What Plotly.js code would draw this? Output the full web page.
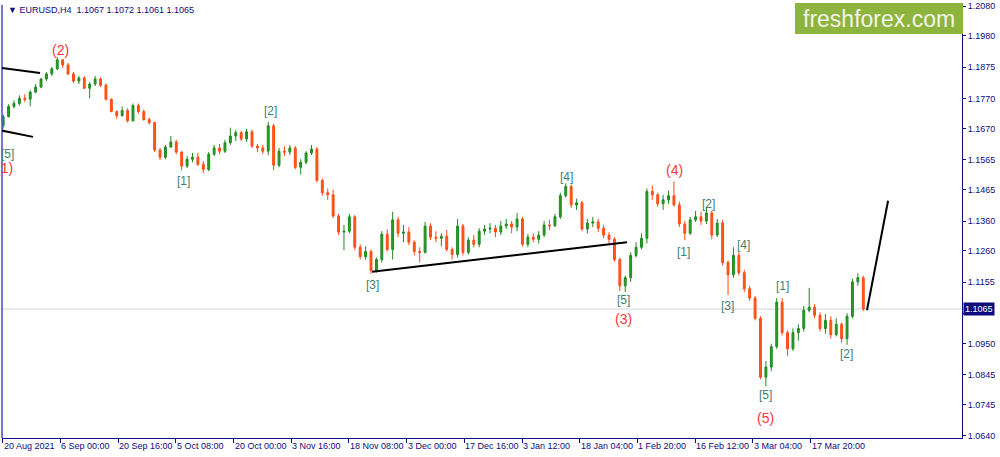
<!DOCTYPE html>
<html><head><meta charset="utf-8">
<script src="https://cdn.plot.ly/plotly-3.0.1.min.js"></script>
<style>html,body{margin:0;padding:0;background:#fff;}#chart{width:1000px;height:457px;}</style>
</head><body><div id="chart"></div>
<script>
// ---- data (EURUSD, one candle per trading day) ----
const opens = [1.1679,1.1710,1.1744,1.1754,1.1771,1.1768,1.1792,1.1809,1.1836,1.1853,
1.1870,1.1900,1.1883,1.1853,1.1829,1.1839,1.1805,1.1819,1.1836,1.1815,
1.1768,1.1727,1.1713,1.1730,1.1696,1.1747,1.1727,1.1700,1.1690,1.1598,
1.1574,1.1608,1.1625,1.1591,1.1544,1.1567,1.1574,1.1550,1.1533,1.1584,
1.1605,1.1594,1.1622,1.1645,1.1656,1.1635,1.1659,1.1611,1.1605,1.1594,
1.1679,1.1547,1.1594,1.1591,1.1605,1.1540,1.1557,1.1588,1.1601,1.1496,
1.1455,1.1448,1.1377,1.1323,1.1326,1.1374,1.1272,1.1241,1.1258,1.1194,
1.1231,1.1316,1.1265,1.1364,1.1319,1.1323,1.1289,1.1258,1.1255,1.1343,
1.1306,1.1302,1.1309,1.1265,1.1248,1.1343,1.1255,1.1296,1.1282,1.1326,
1.1333,1.1336,1.1323,1.1343,1.1350,1.1340,1.1367,1.1282,1.1306,1.1299,
1.1313,1.1347,1.1344,1.1374,1.1445,1.1476,1.1414,1.1421,1.1333,1.1353,
1.1357,1.1336,1.1313,1.1299,1.1231,1.1143,1.1170,1.1245,1.1272,1.1302,
1.1459,1.1448,1.1418,1.1431,1.1445,1.1414,1.1350,1.1319,1.1364,1.1374,
1.1360,1.1387,1.1313,1.1353,1.1221,1.1180,1.1245,1.1187,1.1133,1.1102,
1.1034,1.0837,1.0871,1.0939,1.1088,1.0986,1.0932,1.0986,1.1000,1.1061,
1.1071,1.1044,1.1000,1.1027,1.0980,1.1014,1.0966,1.1041,1.1156,1.1170];
const highs = [1.1717,1.1751,1.1764,1.1781,1.1785,1.1798,1.1819,1.1839,1.1859,1.1876,
1.1909,1.1902,1.1890,1.1859,1.1846,1.1846,1.1825,1.1846,1.1842,1.1822,
1.1771,1.1730,1.1744,1.1737,1.1754,1.1754,1.1734,1.1707,1.1693,1.1605,
1.1615,1.1645,1.1632,1.1594,1.1578,1.1588,1.1588,1.1561,1.1591,1.1615,
1.1618,1.1632,1.1673,1.1666,1.1662,1.1669,1.1666,1.1618,1.1615,1.1693,
1.1686,1.1605,1.1611,1.1615,1.1611,1.1567,1.1594,1.1615,1.1608,1.1503,
1.1469,1.1465,1.1384,1.1347,1.1384,1.1380,1.1282,1.1275,1.1265,1.1238,
1.1326,1.1333,1.1391,1.1374,1.1347,1.1340,1.1296,1.1272,1.1357,1.1353,
1.1326,1.1319,1.1330,1.1272,1.1367,1.1350,1.1306,1.1313,1.1336,1.1347,
1.1353,1.1347,1.1360,1.1367,1.1360,1.1387,1.1374,1.1316,1.1319,1.1326,
1.1360,1.1364,1.1384,1.1455,1.1486,1.1482,1.1435,1.1428,1.1367,1.1374,
1.1367,1.1347,1.1323,1.1306,1.1238,1.1177,1.1255,1.1289,1.1319,1.1469,
1.1479,1.1455,1.1448,1.1462,1.1493,1.1425,1.1360,1.1374,1.1394,1.1391,
1.1404,1.1394,1.1367,1.1364,1.1228,1.1272,1.1255,1.1197,1.1143,1.1109,
1.1041,1.0891,1.0949,1.1102,1.1102,1.0993,1.1000,1.1014,1.1075,1.1136,
1.1082,1.1054,1.1048,1.1041,1.1034,1.1020,1.1051,1.1166,1.1185,1.1177];
const lows = [1.1669,1.1707,1.1737,1.1747,1.1758,1.1744,1.1788,1.1805,1.1829,1.1846,
1.1866,1.1873,1.1849,1.1822,1.1819,1.1802,1.1771,1.1812,1.1809,1.1764,
1.1724,1.1703,1.1710,1.1690,1.1693,1.1720,1.1696,1.1683,1.1591,1.1564,
1.1567,1.1605,1.1584,1.1530,1.1537,1.1557,1.1544,1.1520,1.1527,1.1578,
1.1584,1.1588,1.1615,1.1628,1.1628,1.1625,1.1605,1.1591,1.1584,1.1581,
1.1530,1.1540,1.1578,1.1581,1.1533,1.1516,1.1550,1.1581,1.1489,1.1445,
1.1431,1.1370,1.1313,1.1262,1.1319,1.1262,1.1231,1.1231,1.1183,1.1187,
1.1221,1.1258,1.1231,1.1306,1.1289,1.1279,1.1245,1.1221,1.1251,1.1296,
1.1289,1.1275,1.1258,1.1231,1.1238,1.1245,1.1248,1.1272,1.1272,1.1313,
1.1319,1.1306,1.1313,1.1333,1.1319,1.1326,1.1275,1.1272,1.1289,1.1285,
1.1306,1.1330,1.1340,1.1367,1.1438,1.1404,1.1397,1.1326,1.1319,1.1340,
1.1323,1.1302,1.1285,1.1224,1.1126,1.1122,1.1156,1.1238,1.1265,1.1285,
1.1431,1.1408,1.1397,1.1418,1.1408,1.1340,1.1296,1.1313,1.1357,1.1347,
1.1350,1.1299,1.1306,1.1211,1.1112,1.1170,1.1177,1.1122,1.1092,1.1027,
1.0830,1.0806,1.0857,1.0932,1.0976,1.0908,1.0925,1.0959,1.0990,1.1054,
1.1034,1.0990,1.0983,1.0966,1.0973,1.0952,1.0945,1.1034,1.1143,1.1058];
const closes = [1.1710,1.1744,1.1754,1.1771,1.1768,1.1792,1.1809,1.1836,1.1853,1.1870,
1.1900,1.1883,1.1853,1.1829,1.1839,1.1805,1.1819,1.1836,1.1815,1.1768,
1.1727,1.1713,1.1730,1.1696,1.1747,1.1727,1.1700,1.1690,1.1598,1.1574,
1.1608,1.1625,1.1591,1.1544,1.1567,1.1574,1.1550,1.1533,1.1584,1.1605,
1.1594,1.1622,1.1645,1.1656,1.1635,1.1659,1.1611,1.1605,1.1594,1.1679,
1.1547,1.1594,1.1591,1.1605,1.1540,1.1557,1.1588,1.1601,1.1496,1.1455,
1.1448,1.1377,1.1323,1.1326,1.1374,1.1272,1.1241,1.1258,1.1194,1.1231,
1.1316,1.1265,1.1364,1.1319,1.1323,1.1289,1.1258,1.1255,1.1343,1.1306,
1.1302,1.1309,1.1265,1.1248,1.1343,1.1255,1.1296,1.1282,1.1326,1.1333,
1.1336,1.1323,1.1343,1.1350,1.1340,1.1367,1.1282,1.1306,1.1299,1.1313,
1.1347,1.1344,1.1374,1.1445,1.1476,1.1414,1.1421,1.1333,1.1353,1.1357,
1.1336,1.1313,1.1299,1.1231,1.1143,1.1170,1.1245,1.1272,1.1302,1.1459,
1.1448,1.1418,1.1431,1.1445,1.1414,1.1350,1.1319,1.1364,1.1374,1.1360,
1.1387,1.1313,1.1353,1.1221,1.1180,1.1245,1.1187,1.1133,1.1102,1.1034,
1.0837,1.0871,1.0939,1.1088,1.0986,1.0932,1.0986,1.1000,1.1061,1.1071,
1.1044,1.1000,1.1027,1.0980,1.1014,1.0966,1.1041,1.1156,1.1170,1.1065];

// time axis: H4 bar index, labels every 64 bars
const timeTickBars = [0,64,128,192,256,320,384,448,512,576,640,704,768,832,896];
const timeTickLabels = ["20 Aug 2021","6 Sep 00:00","20 Sep 16:00","5 Oct 08:00","20 Oct 00:00",
  "3 Nov 16:00","18 Nov 08:00","3 Dec 00:00","17 Dec 16:00","3 Jan 12:00","18 Jan 04:00",
  "1 Feb 20:00","16 Feb 12:00","3 Mar 04:00","17 Mar 20:00"];
const priceTicks = [1.2080,1.1980,1.1875,1.1770,1.1670,1.1565,1.1465,1.1360,1.1260,1.1155,1.1050,1.0950,1.0845,1.0745,1.0640];
// 1.1050 sits under the current-price box, so its text is hidden
const priceTickLabels = ["1.2080","1.1980","1.1875","1.1770","1.1670","1.1565","1.1465","1.1360","1.1260","1.1155","","1.0950","1.0845","1.0745","1.0640"];
const lastPrice = 1.1065;
const headerText = "EURUSD,H4  1.1067 1.1072 1.1061 1.1065";

// wave labels: [bar index, price, text, major?]
const waveLabels = [
  [63.6,1.1934,"(2)",true],[200,1.1493,"[1]",false],[296.5,1.1730,"[2]",false],
  [409.6,1.1146,"[3]",false],[624.8,1.1506,"[4]",false],[688,1.1095,"[5]",false],
  [688,1.1031,"(3)",true],[744.6,1.1530,"(4)",true],[754.6,1.1255,"[1]",false],
  [782.3,1.1418,"[2]",false],[803.4,1.1075,"[3]",false],[822.2,1.1279,"[4]",false],
  [845.5,1.0776,"[5]",false],[846.6,1.0701,"(5)",true],[864.4,1.1143,"[1]",false],
  [936.4,1.0915,"[2]",false]
];
// trend lines: [bar0, price0, bar1, price1]
const trendLines = [
  [-1,1.1873,41.4,1.1856],
  [-1,1.1663,33.6,1.1642],
  [409.6,1.1190,692.4,1.1289],
  [958.6,1.1061,982,1.1428]
];

// ---- build ----
const xs = opens.map((_, i) => 6 * i + 0.5);
const NAVY = '#0c0c7e';
const W = 1000, H = 457, L = 2, R = 38, T = 4, B = 19;
const pw = W - L - R, ph = H - T - B;
const px = x => (x - L) / pw;
const py = y => (H - B - y) / ph;

const trace = {
  type: 'candlestick', x: xs, open: opens, high: highs, low: lows, close: closes,
  increasing: {line: {color: '#1f8a1f', width: 1}, fillcolor: '#2e9a2e'},
  decreasing: {line: {color: '#ff4a10', width: 1}, fillcolor: '#ff5a1e'},
  whiskerwidth: 0, hoverinfo: 'skip', showlegend: false
};

const annotations = [];
waveLabels.forEach(w => annotations.push({
  x: w[0], y: w[1], xref: 'x', yref: 'y', text: w[2], showarrow: false,
  font: {size: w[3] ? 14 : 12, color: w[3] ? '#ff3434' : '#3f7f6e', family: 'Liberation Sans'}
}));
// labels cut by the left edge
annotations.push({x: px(-0.5), y: py(146), xref: 'paper', yref: 'paper', text: '[5]', showarrow: false, borderpad: 0,
  font: {size: 12, color: '#3f7f6e', family: 'Liberation Sans'}});
annotations.push({x: px(-5), y: py(168), xref: 'paper', yref: 'paper', text: '(1)', showarrow: false, borderpad: 0,
  font: {size: 14, color: '#ff3434', family: 'Liberation Sans'}});
timeTickBars.forEach((b, i) => annotations.push({
  x: b, y: py(446), xref: 'x', yref: 'paper', text: timeTickLabels[i], showarrow: false,
  xanchor: 'left', yanchor: 'middle', xshift: -1, font: {size: 9, color: NAVY, family: 'Liberation Sans'}
}));
annotations.push({x: 1, y: lastPrice, xref: 'paper', yref: 'y', text: lastPrice.toFixed(4), showarrow: false,
  xanchor: 'left', yanchor: 'middle', xshift: 1, bgcolor: NAVY, borderpad: 1,
  font: {size: 9, color: '#ffffff', family: 'Liberation Sans'}});
annotations.push({x: px(6), y: py(10), xref: 'paper', yref: 'paper', text: '▼ ' + headerText.replace(/  /g, '\u00a0\u00a0'),
  showarrow: false, xanchor: 'left', yanchor: 'middle', font: {size: 9, color: NAVY, family: 'Liberation Sans'}});
annotations.push({x: px(879), y: py(19), xref: 'paper', yref: 'paper', text: 'freshforex.com', showarrow: false,
  xanchor: 'center', yanchor: 'middle', font: {size: 23, color: '#f2f5ea', family: 'Liberation Sans'}});

const shapes = [
  {type: 'line', xref: 'paper', yref: 'y', x0: 0, x1: 1, y0: lastPrice, y1: lastPrice, line: {color: '#d4d4d4', width: 1}, layer: 'below'},
  {type: 'line', xref: 'paper', yref: 'paper', x0: 0, x1: 0, y0: 0, y1: py(5), line: {color: '#4848c8', width: 1.5}},
  {type: 'rect', xref: 'paper', yref: 'paper', x0: px(795), x1: px(963), y0: py(34), y1: py(3), line: {width: 0}, fillcolor: '#8db43c'}
];
trendLines.forEach(t => shapes.push({type: 'line', xref: 'x', yref: 'y', x0: t[0], y0: t[1], x1: t[2], y1: t[3],
  line: {color: '#000000', width: 2}}));

const layout = {
  width: W, height: H, margin: {l: L, r: R, t: T, b: B},
  paper_bgcolor: '#ffffff', plot_bgcolor: '#ffffff',
  font: {family: 'Liberation Sans', size: 9, color: NAVY},
  showlegend: false, boxgap: 0.5,
  xaxis: {type: 'linear', range: [-0.78, 1064], rangeslider: {visible: false}, showgrid: false, zeroline: false,
    showline: true, linecolor: NAVY, linewidth: 1, ticks: 'outside', ticklen: 4, tickcolor: NAVY,
    tickmode: 'array', tickvals: timeTickBars, showticklabels: false, fixedrange: true},
  yaxis: {range: [1.0633, 1.20872], side: 'right', showgrid: false, zeroline: false,
    showline: true, linecolor: NAVY, linewidth: 1, ticks: 'outside', ticklen: 3, tickcolor: NAVY,
    tickmode: 'array', tickvals: priceTicks, ticktext: priceTickLabels,
    tickfont: {size: 9, color: NAVY, family: 'Liberation Sans'}, fixedrange: true},
  annotations: annotations, shapes: shapes
};
Plotly.newPlot('chart', [trace], layout, {staticPlot: true, displayModeBar: false});
</script></body></html>
